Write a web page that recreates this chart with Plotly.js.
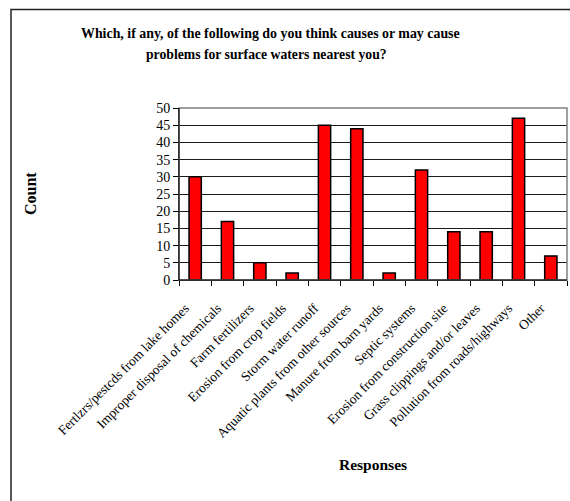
<!DOCTYPE html>
<html>
<head>
<meta charset="utf-8">
<script src="https://cdn.plot.ly/plotly-3.0.1.min.js"></script>
<style>
  html, body { margin: 0; padding: 0; background: #ffffff; }
  #chart { width: 570px; height: 501px; }
</style>
</head>
<body>
<div id="chart"></div>
<script>
// Survey responses: perceived causes of problems for nearby surface waters
const categories = [
  "Fertlzrs/pestcds from lake homes",
  "Improper disposal of chemicals",
  "Farm fertilizers",
  "Erosion from crop fields",
  "Storm water runoff",
  "Aquatic plants from other sources",
  "Manure from barn yards",
  "Septic systems",
  "Erosion from construction site",
  "Grass clippings and/or leaves",
  "Pollution from roads/highways",
  "Other"
];
const counts = [30, 17, 5, 2, 45, 44, 2, 32, 14, 14, 47, 7];
const yTicks = [0, 5, 10, 15, 20, 25, 30, 35, 40, 45, 50];

const titleLines = [
  "Which, if any, of the following do you think causes or may cause",
  "problems for surface waters nearest you?"
];
const xTitle = "Responses";
const yTitle = "Count";

const serif = "'Liberation Serif', 'Times New Roman', serif";

// plot area in pixels: left 179, right 567, top 108, bottom 280
const W = 570, H = 501;
const L = 179, R = 567, T = 108, B = 280;
const px = x => (x - L) / (R - L);   // pixel x -> paper x
const py = y => (B - y) / (B - T);   // pixel y -> paper y

const trace = {
  type: "bar",
  x: categories,
  y: counts,
  marker: { color: "#ff0000", line: { color: "#000000", width: 1.5 } },
  hoverinfo: "x+y"
};

const layout = {
  width: W,
  height: H,
  margin: { l: L, r: W - R, t: T, b: H - B, pad: 0 },
  paper_bgcolor: "#ffffff",
  plot_bgcolor: "#ffffff",
  showlegend: false,
  bargap: 0.62,
  font: { family: serif, color: "#000000", size: 14 },
  xaxis: {
    type: "category",
    tickson: "boundaries",
    ticks: "outside",
    ticklen: 5,
    tickcolor: "#000000",
    tickwidth: 1,
    showline: true,
    linecolor: "#000000",
    linewidth: 1,
    showgrid: false,
    tickangle: -45,
    tickfont: { family: serif, size: 13.5, color: "#000000" },
    ticklabelstandoff: 14,
    ticklabelshift: -10,
    automargin: false,
    fixedrange: true
  },
  yaxis: {
    range: [0, 50],
    tickvals: yTicks,
    ticktext: yTicks.map(String),
    ticks: "outside",
    ticklen: 5,
    tickcolor: "#000000",
    tickwidth: 1,
    showline: true,
    linecolor: "#000000",
    linewidth: 1,
    showgrid: true,
    gridcolor: "#1a1a1a",
    gridwidth: 1,
    zeroline: false,
    tickfont: { family: serif, size: 14, color: "#000000" },
    automargin: false,
    fixedrange: true
  },
  shapes: [
    // outer chart frame
    {
      type: "rect", xref: "paper", yref: "paper", layer: "below",
      x0: px(11), x1: px(574), y0: py(506), y1: py(9.5),
      line: { color: "#222222", width: 1.5 }
    },
    // plot area border (top and right show in gray)
    {
      type: "rect", xref: "paper", yref: "paper", layer: "above",
      x0: 0, x1: 1, y0: 0, y1: 1,
      line: { color: "#808080", width: 1.5 }
    },
    // redraw the black axis lines over the gray border
    {
      type: "line", xref: "paper", yref: "paper", layer: "above",
      x0: 0, x1: 0, y0: 0, y1: 1,
      line: { color: "#000000", width: 1 }
    },
    {
      type: "line", xref: "paper", yref: "paper", layer: "above",
      x0: 0, x1: 1, y0: 0, y1: 0,
      line: { color: "#000000", width: 1 }
    }
  ],
  annotations: [
    {
      text: "<b>" + titleLines[0] + "</b>", xref: "paper", yref: "paper",
      x: px(270), y: py(34), xanchor: "center", yanchor: "middle",
      showarrow: false, font: { family: serif, size: 13.9, color: "#000000" }
    },
    {
      text: "<b>" + titleLines[1] + "</b>", xref: "paper", yref: "paper",
      x: px(266), y: py(54), xanchor: "center", yanchor: "middle",
      showarrow: false, font: { family: serif, size: 13.7, color: "#000000" }
    },
    {
      text: "<b>" + yTitle + "</b>", xref: "paper", yref: "paper",
      x: px(30), y: py(194), xanchor: "center", yanchor: "middle",
      textangle: -90, showarrow: false,
      font: { family: serif, size: 16, color: "#000000" }
    },
    {
      text: "<b>" + xTitle + "</b>", xref: "paper", yref: "paper",
      x: px(373), y: py(465), xanchor: "center", yanchor: "middle",
      showarrow: false, font: { family: serif, size: 15.5, color: "#000000" }
    }
  ]
};

Plotly.newPlot("chart", [trace], layout, { displayModeBar: false, staticPlot: true });
</script>
</body>
</html>
